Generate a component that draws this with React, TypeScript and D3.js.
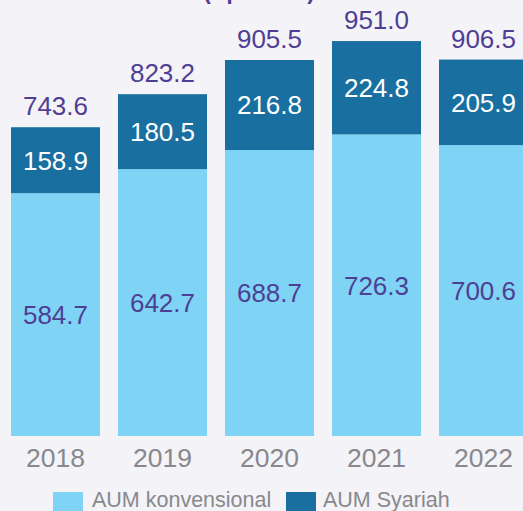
import React from "react";
import * as d3 from "d3";

const years = ["2018", "2019", "2020", "2021", "2022"];
const konvensional = [584.7, 642.7, 688.7, 726.3, 700.6];
const syariah = [158.9, 180.5, 216.8, 224.8, 205.9];
const totals = [743.6, 823.2, 905.5, 951.0, 906.5];
const legendLabels = ["AUM konvensional", "AUM Syariah"];
const titleText = "(Rp triliun)";

const W = 523;
const H = 511;
const BG = "#f4f3f8";
const LIGHT = "#7fd3f5";
const DARK = "#186fa0";
const PURPLE = "#4e3f94";
const GRAY = "#88888d";
const FONT = "'Liberation Sans', Arial, Helvetica, sans-serif";
const FS = 26;

export default function App() {
  const x = d3
    .scaleBand<string>()
    .domain(years)
    .range([2, 537])
    .paddingInner(0.168)
    .paddingOuter(0.084);
  const y = d3.scaleLinear().domain([0, 1050]).range([436, 0]);

  return (
    <svg
      width={W}
      height={H}
      style={{ position: "absolute", left: 0, top: 0, background: BG }}
    >
      <rect x={0} y={0} width={W} height={H} fill={BG} />
      <text
        x={259}
        y={-1}
        textAnchor="middle"
        fontFamily={FONT}
        fontWeight="bold"
        fontSize={22}
        fill={PURPLE}
      >
        {titleText}
      </text>
      {years.map((yr, i) => {
        const x0 = x(yr)!;
        const bw = x.bandwidth();
        const cx = x0 + bw / 2;
        const k = konvensional[i];
        const s = syariah[i];
        const yK = y(k);
        const yT = y(k + s);
        return (
          <g key={yr}>
            <rect x={x0} y={yK} width={bw} height={y(0) - yK} fill={LIGHT} />
            <rect x={x0} y={yT} width={bw} height={yK - yT} fill={DARK} />
            <text
              x={cx}
              y={(yK + y(0)) / 2 + 9.3}
              textAnchor="middle"
              fontFamily={FONT}
              fontSize={FS}
              fill={PURPLE}
            >
              {k.toFixed(1)}
            </text>
            <text
              x={cx}
              y={(yT + yK) / 2 + 9.3}
              textAnchor="middle"
              fontFamily={FONT}
              fontSize={FS}
              fill="#ffffff"
            >
              {s.toFixed(1)}
            </text>
            <text
              x={cx}
              y={y(totals[i]) - 12}
              textAnchor="middle"
              fontFamily={FONT}
              fontSize={FS}
              fill={PURPLE}
            >
              {totals[i].toFixed(1)}
            </text>
            <text
              x={cx}
              y={467}
              textAnchor="middle"
              fontFamily={FONT}
              fontSize={26.5}
              fill={GRAY}
            >
              {yr}
            </text>
          </g>
        );
      })}
      <g>
        <rect x={53} y={492} width={30} height={20} fill={LIGHT} />
        <text x={92} y={507} fontFamily={FONT} fontSize={21.5} fill={GRAY}>
          {legendLabels[0]}
        </text>
        <rect x={286} y={492} width={30} height={20} fill={DARK} />
        <text x={323} y={507} fontFamily={FONT} fontSize={21.5} fill={GRAY}>
          {legendLabels[1]}
        </text>
      </g>
    </svg>
  );
}
